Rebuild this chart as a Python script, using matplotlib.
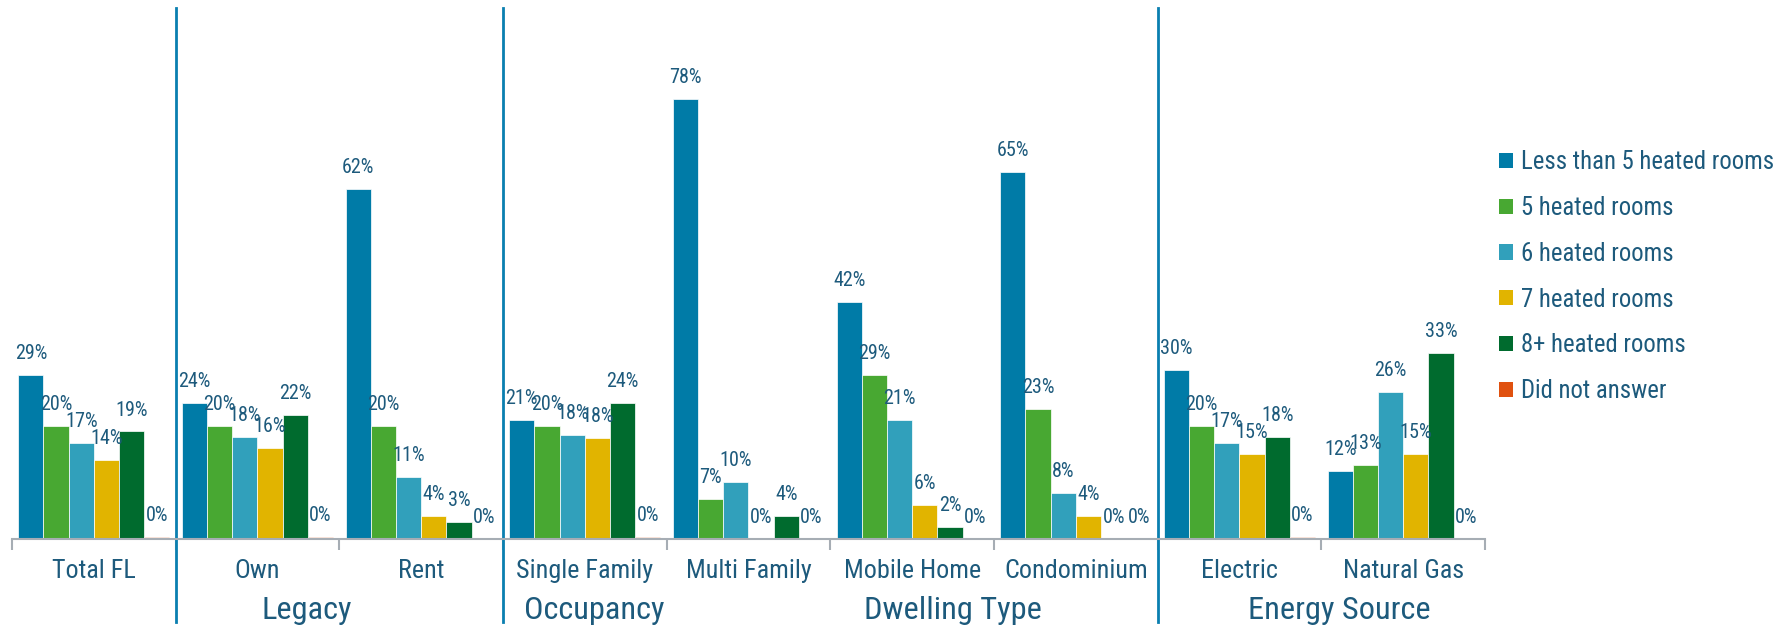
import matplotlib
matplotlib.use("Agg")
import matplotlib.pyplot as plt
import numpy as np
from matplotlib.patches import Patch

plt.rcParams["font.family"] = ["Arial Narrow", "Liberation Sans Narrow",
                               "Roboto Condensed", "PT Sans Narrow",
                               "Archivo Narrow", "DejaVu Sans"]

CATEGORIES = ["Total FL", "Own", "Rent", "Single Family", "Multi Family",
              "Mobile Home", "Condominium", "Electric", "Natural Gas"]
SERIES = ["Less than 5 heated rooms", "5 heated rooms", "6 heated rooms",
          "7 heated rooms", "8+ heated rooms", "Did not answer"]

less5 = [29, 24, 62, 21, 78, 42, 65, 30, 12]
rooms5 = [20, 20, 20, 20, 7, 29, 23, 20, 13]
rooms6 = [17, 18, 11, 18.3, 10, 21, 8, 17, 26]
rooms7 = [14, 16, 4, 17.8, 0, 6, 4, 15, 15]
rooms8 = [19, 22, 3, 24, 4, 2, 0, 18, 33]
no_answer = [0.3, 0.3, 0, 0.3, 0, 0, 0, 0.3, 0]

GROUPS = ["Legacy", "Occupancy", "Dwelling Type", "Energy Source"]
GROUP_POS = [1.30, 3.06, 5.25, 7.61]
SEPARATORS = [0.5, 2.5, 6.5]

COLORS = ["#007ba7", "#48a832", "#31a0bb", "#e1b400", "#006b2e", "#e0510f"]
TEXT = "#1d5a7c"
AXIS_GREY = "#a6adb4"

values = [less5, rooms5, rooms6, rooms7, rooms8, no_answer]

fig = plt.figure(figsize=(17.9, 6.27), dpi=100)
ax = fig.add_axes([12 / 1790, 88.5 / 627, 1473 / 1790, 530.5 / 627])

x = np.arange(len(CATEGORIES))
width = 0.154
for i, (name, vals, color) in enumerate(zip(SERIES, values, COLORS)):
    pos = x + (i - 2.5) * width
    ax.bar(pos, vals, width=width, color=color, edgecolor="white",
           linewidth=0.5, label=name)
    for px, v in zip(pos, vals):
        ax.annotate(f"{round(v)}%", (px, v), xytext=(0, 11.5),
                    textcoords="offset points", ha="center", va="baseline",
                    fontsize=14.5, color=TEXT)

ax.set_xlim(-0.5, len(CATEGORIES) - 0.5)
ax.set_ylim(0, 94.2)
ax.set_yticks([])
for s in ["top", "right", "left"]:
    ax.spines[s].set_visible(False)
ax.spines["bottom"].set_color(AXIS_GREY)
ax.spines["bottom"].set_linewidth(1.5)

ax.set_xticks(x)
ax.set_xticklabels(CATEGORIES, fontsize=18.8, color=TEXT)
ax.tick_params(axis="x", which="major", length=0, pad=14.5)
ax.set_xticks(np.arange(-0.5, len(CATEGORIES)), minor=True)
ax.tick_params(axis="x", which="minor", length=8, width=1.5, color=AXIS_GREY)

for sx in SEPARATORS:
    ax.axvline(sx, ymin=-0.158, ymax=1.0, color="#0a7fb0", linewidth=2,
               clip_on=False)

trans = ax.get_xaxis_transform()
for label, gx in zip(GROUPS, GROUP_POS):
    ax.text(gx, -0.135, label, transform=trans, ha="center", va="center",
            fontsize=23.3, color=TEXT)

handles = [Patch(facecolor=c, edgecolor="none") for c in COLORS]
fig.legend(handles, SERIES, loc="upper left", bbox_to_anchor=(1477 / 1790, 1 - 128 / 627),
           frameon=False, fontsize=17.8, labelcolor=TEXT, handlelength=0.57,
           handleheight=0.57, handletextpad=0.3, labelspacing=0.88)

fig.savefig("out.png", dpi=100, facecolor="white")
